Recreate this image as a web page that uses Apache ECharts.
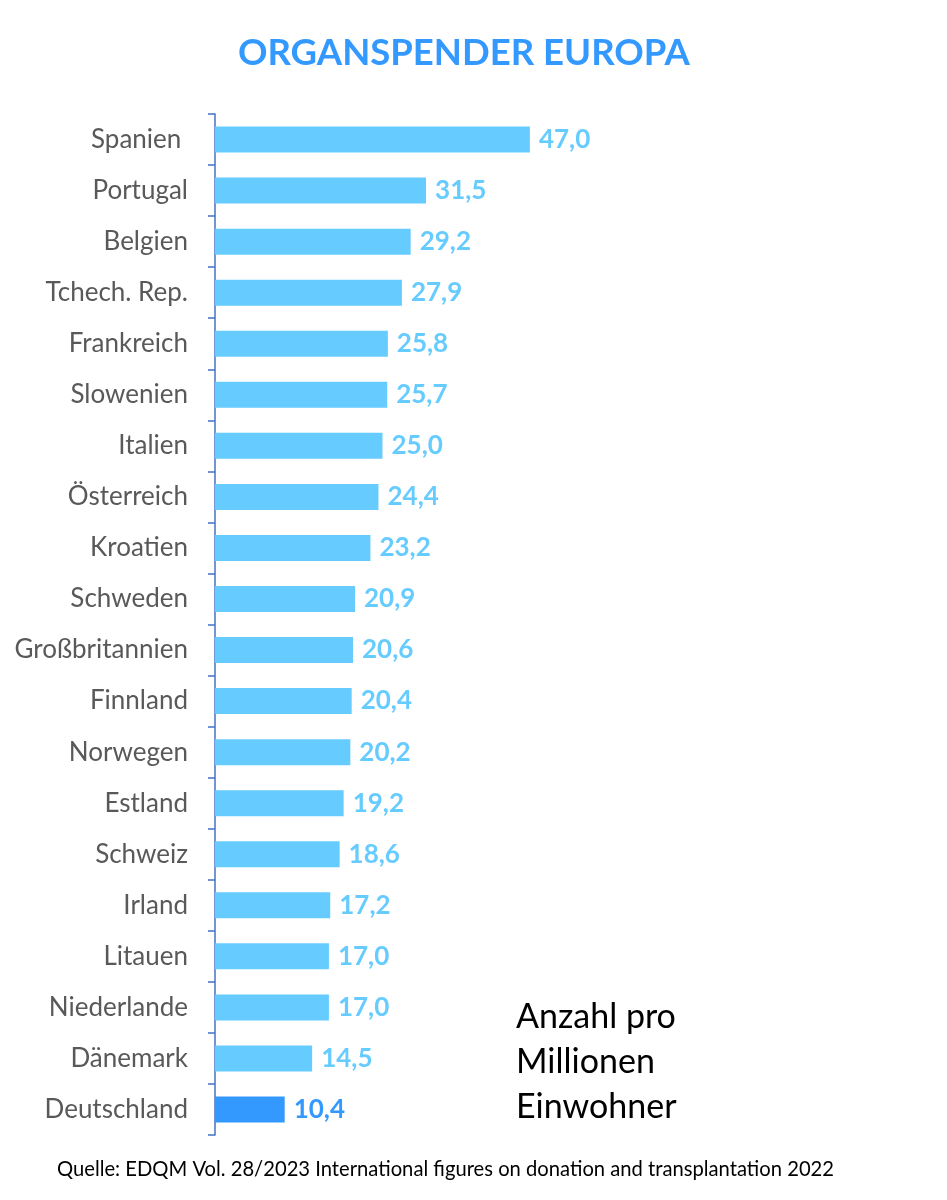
<!DOCTYPE html>
<html>
<head>
<meta charset="utf-8">
<script src="https://cdn.jsdelivr.net/npm/echarts@6/dist/echarts.min.js"></script>
<style>
html,body{margin:0;padding:0;background:#fff;}
#chart{width:947px;height:1200px;}
</style>
</head>
<body>
<div id="chart"></div>
<script>
const countries = ["Spanien ", "Portugal", "Belgien", "Tchech. Rep.", "Frankreich", "Slowenien", "Italien", "Österreich", "Kroatien", "Schweden", "Großbritannien", "Finnland", "Norwegen", "Estland", "Schweiz", "Irland", "Litauen", "Niederlande", "Dänemark", "Deutschland"];
const donors = [47.0, 31.5, 29.2, 27.9, 25.8, 25.7, 25.0, 24.4, 23.2, 20.9, 20.6, 20.4, 20.2, 19.2, 18.6, 17.2, 17.0, 17.0, 14.5, 10.4];
const highlight = "Deutschland";
const titleText = "ORGANSPENDER EUROPA";
const noteLines = ["Anzahl pro", "Millionen", "Einwohner"];
const sourceText = "Quelle: EDQM Vol. 28/2023 International figures on donation and transplantation 2022";

const FONT = "Lato";
const light = "#66CCFF", dark = "#3399FF";

const chart = echarts.init(document.getElementById('chart'));
const data = donors.map((v, i) => {
  const isH = countries[i] === highlight;
  return {
    value: v,
    itemStyle: { color: isH ? dark : light },
    label: { color: isH ? dark : light }
  };
});

chart.setOption({
  backgroundColor: '#fff',
  animation: false,
  title: {
    text: titleText,
    left: 233,
    top: 30,
    textStyle: { color: dark, fontFamily: FONT, fontWeight: 'bold', fontSize: 36.5 }
  },
  grid: { left: 215, top: 114, width: 670, height: 1021, containLabel: false },
  xAxis: { type: 'value', min: 0, max: 100, show: false },
  yAxis: {
    type: 'category',
    data: countries,
    inverse: true,
    axisLine: { show: true, lineStyle: { color: '#4472C4', width: 1.5 } },
    axisTick: { show: true, length: 7, lineStyle: { color: '#4472C4', width: 1.5 } },
    axisLabel: { color: '#595959', fontFamily: FONT, fontSize: 26, margin: 27 },
    splitLine: { show: false }
  },
  series: [{
    type: 'bar',
    data: data,
    barWidth: 26,
    label: {
      show: true,
      position: 'right',
      distance: 9,
      fontFamily: FONT,
      fontWeight: 'bold',
      fontSize: 26,
      formatter: p => p.value.toFixed(1).replace('.', ',')
    }
  }],
  graphic: [
    ...noteLines.map((t, i) => ({
      type: 'text',
      left: 516,
      top: 1000 + i * 45,
      style: { text: t, fill: '#000', font: '34px ' + FONT }
    })),
    {
      type: 'text',
      left: 57,
      top: 1159,
      style: { text: sourceText, fill: '#000', font: '20.2px ' + FONT }
    }
  ]
});
</script>
</body>
</html>
